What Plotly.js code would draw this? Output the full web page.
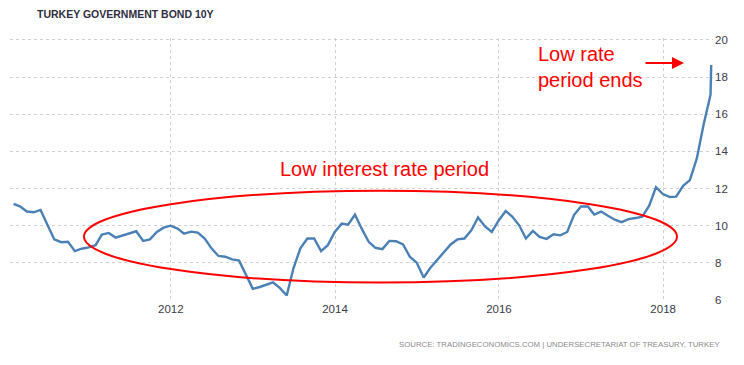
<!DOCTYPE html>
<html>
<head>
<meta charset="utf-8">
<script src="https://cdn.plot.ly/plotly-3.0.1.min.js"></script>
<style>html,body{margin:0;padding:0;background:#fff;}#chart{width:744px;height:365px;}</style>
</head>
<body>
<div id="chart"></div>
<script>
// Monthly 10Y yield, Jan 2010 .. Jul 2018, plus latest reading (early Aug 2018)
const startYear = 2010;
const startMonth = 1;
const yields = [
  11.17, 11.04, 10.76, 10.72, 10.85, 10.05, 9.26, 9.11, 9.13, 8.63, 8.76, 8.83,
  8.95, 9.52, 9.61, 9.36, 9.48, 9.57, 9.70, 9.18, 9.26, 9.66, 9.89, 10.00,
  9.84, 9.57, 9.68, 9.63, 9.31, 8.78, 8.37, 8.33, 8.19, 8.12, 7.36, 6.60,
  6.70, 6.82, 6.95, 6.65, 6.24, 7.71, 8.78, 9.31, 9.31, 8.63, 8.95, 9.66,
  10.11, 10.05, 10.59, 9.84, 9.13, 8.81, 8.74, 9.18, 9.16, 8.99, 8.33, 8.01,
  7.21, 7.71, 8.15, 8.60, 8.99, 9.26, 9.31, 9.75, 10.44, 9.96, 9.66, 10.28,
  10.79, 10.49, 10.02, 9.31, 9.72, 9.39, 9.29, 9.54, 9.48, 9.66, 10.57, 11.03,
  11.03, 10.60, 10.76, 10.53, 10.32, 10.19, 10.35, 10.41, 10.49, 11.08, 12.07, 11.70,
  11.54, 11.56, 12.14, 12.45, 13.62, 15.43, 17.05,
  18.65
];
const latestDate = '2018-08-03';
const yearTicks = ['2012', '2014', '2016', '2018'];
const yTicks = [6, 8, 10, 12, 14, 16, 18, 20];

// month-end dates for monthly readings
const dates = [];
for (let i = 0; i < yields.length - 1; i++) {
  const m = startMonth - 1 + i;
  const y = startYear + Math.floor(m / 12);
  const mo = m % 12;
  const last = new Date(Date.UTC(y, mo + 1, 0)).getUTCDate();
  dates.push(y + '-' + String(mo + 1).padStart(2, '0') + '-' + String(last).padStart(2, '0'));
}
dates.push(latestDate);

// plot area in pixels
const L = 10, R = 713, T = 38, B = 300.5, W = 744, H = 365;
const px = x => (x - L) / (R - L);
const py = y => (B - y) / (B - T);

const trace = {
  x: dates, y: yields, type: 'scatter', mode: 'lines',
  line: {color: '#4a80b6', width: 2.4},
  hoverinfo: 'skip'
};

const layout = {
  width: W, height: H,
  margin: {l: L, r: W - R, t: T, b: H - B},
  paper_bgcolor: '#fff', plot_bgcolor: '#fff',
  showlegend: false,
  font: {family: 'Liberation Sans, Arial, sans-serif', color: '#333'},
  xaxis: {
    type: 'date',
    range: ['2010-01-15', '2018-08-11'],
    tickvals: yearTicks.map(y => y + '-01-01'),
    ticktext: yearTicks,
    showgrid: true, gridcolor: '#d0d0d0', griddash: 'dot', gridwidth: 1,
    zeroline: false, showline: false, ticks: '',
    tickfont: {size: 11.5, color: '#3a3a4a'}
  },
  yaxis: {
    side: 'right',
    range: [6, 20.1],
    tickvals: yTicks,
    showgrid: true, gridcolor: '#d0d0d0', griddash: 'dot', gridwidth: 1,
    zeroline: false, showline: false, ticks: '',
    ticklabelstandoff: 1,
    tickfont: {size: 11.5, color: '#3a3a4a'}
  },
  shapes: [
    {type: 'circle', xref: 'paper', yref: 'paper',
     x0: px(84), x1: px(677), y0: py(283), y1: py(191),
     line: {color: '#ff0000', width: 2}}
  ],
  annotations: [
    {text: 'TURKEY GOVERNMENT BOND 10Y', xref: 'paper', yref: 'paper',
     x: px(35), y: py(14), xanchor: 'left', yanchor: 'middle', showarrow: false,
     font: {size: 10.5, color: '#2e2e3e', family: 'Liberation Sans, Arial, sans-serif', weight: 'bold'}},
    {text: 'SOURCE: TRADINGECONOMICS.COM | UNDERSECRETARIAT OF TREASURY, TURKEY', xref: 'paper', yref: 'paper',
     x: px(722), y: py(345), xanchor: 'right', yanchor: 'middle', showarrow: false,
     font: {size: 7.8, color: '#8a8a8a'}},
    {text: 'Low interest rate period', xref: 'paper', yref: 'paper',
     x: px(278), y: py(169), xanchor: 'left', yanchor: 'middle', showarrow: false,
     font: {size: 20, color: '#ff0000'}},
    {text: 'Low rate<br>period ends', xref: 'paper', yref: 'paper', align: 'left',
     x: px(536), y: py(67.5), xanchor: 'left', yanchor: 'middle', showarrow: false,
     font: {size: 20, color: '#ff0000'}},
    {text: '', xref: 'paper', yref: 'paper', x: px(684), y: py(63),
     showarrow: true, axref: 'pixel', ayref: 'pixel', ax: -40, ay: 0,
     arrowhead: 2, arrowsize: 1.2, arrowwidth: 2, arrowcolor: '#ff0000', standoff: 0}
  ]
};

Plotly.newPlot('chart', [trace], layout, {displayModeBar: false, staticPlot: true});
</script>
</body>
</html>
